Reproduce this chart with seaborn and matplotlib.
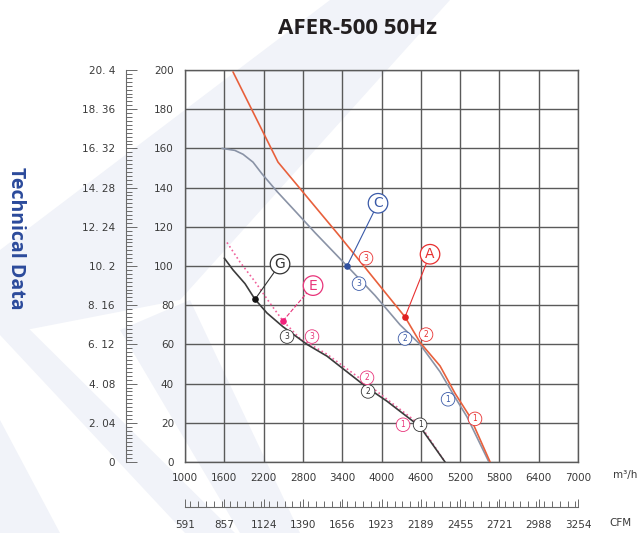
import numpy as np
import pandas as pd
import seaborn as sns
import matplotlib.pyplot as plt
from matplotlib.patches import Polygon
from matplotlib.ticker import MultipleLocator

# fan curves, airflow (m3/h) vs static pressure (Pa)
a_flow = [1733, 2420, 3367, 4359, 4589, 4894, 5123, 5352, 5658]
a_pa = [199, 153, 115, 74, 61, 49, 35, 23, 0]
c_flow = [1565, 1760, 1886, 2038, 2176, 2405, 2710, 2985, 3474, 3900, 4283, 4589, 4894, 5123, 5306, 5640]
c_pa = [160, 159, 157, 153, 147, 138, 127, 117, 100, 85, 70, 60, 46, 33, 23, 0]
g_flow = [1600, 1733, 1916, 2069, 2252, 2496, 2863, 3168, 3779, 4084, 4589, 4970]
g_pa = [104, 98, 91, 83, 76, 69, 60, 54, 38, 31, 18, 0]
e_flow = [1641, 1840, 2069, 2298, 2496, 2756, 3168, 3779, 4084, 4589, 4970]
e_pa = [112, 102, 92, 81, 72, 63, 55, 40, 32, 19, 0]

# operating points and their letter labels
curve_names = ['A', 'C', 'G', 'E']
point_flow = [4359, 3474, 2069, 2496]
point_pa = [74, 100, 83, 72]
label_flow = [4741, 3947, 2451, 2955]
label_pa = [106, 132, 101, 90]

# circled speed numbers on each curve (number, flow, pa)
num_marks = {
    'A': [('3', 3764, 104), ('2', 4680, 65), ('1', 5428, 22)],
    'C': [('3', 3657, 91), ('2', 4359, 63), ('1', 5016, 32)],
    'G': [('3', 2558, 64), ('2', 3795, 36), ('1', 4589, 19)],
    'E': [('3', 2939, 64), ('2', 3779, 43), ('1', 4329, 19)],
}

flow_ticks = [1000, 1600, 2200, 2800, 3400, 4000, 4600, 5200, 5800, 6400, 7000]
cfm_labels = ['591', '857', '1124', '1390', '1656', '1923', '2189', '2455', '2721', '2988', '3254']
pa_ticks = [0, 20, 40, 60, 80, 100, 120, 140, 160, 180, 200]
mmaq_labels = ['0', '2. 04', '4. 08', '6. 12', '8. 16', '10. 2', '12. 24', '14. 28',
               '16. 32', '18. 36', '20. 4']

colors = {'A': '#e8603c', 'C': '#8a93a6', 'G': '#3c3c3c', 'E': '#f0609a'}
dot_colors = {'A': '#e02020', 'C': '#2f4f9f', 'G': '#111111', 'E': '#f0207a'}
text_colors = {'A': '#e83030', 'C': '#3a5aa8', 'G': '#333333', 'E': '#e8347a'}

sns.set_style('white')
plt.rcParams['font.family'] = ['DejaVu Sans']

fig = plt.figure(figsize=(6.37, 5.33), dpi=100)

# faint watermark shapes in the background
W, H = 637, 533
def px(pts):
    return [(x / W, 1 - y / H) for x, y in pts]
for pts in [[(330, 0), (450, 0), (180, 300), (0, 335), (0, 250)],
            [(0, 300), (0, 335), (185, 533), (235, 533)],
            [(0, 420), (0, 533), (60, 533)],
            [(190, 300), (120, 330), (240, 533), (300, 533)]]:
    fig.add_artist(Polygon(px(pts), closed=True, transform=fig.transFigure,
                           facecolor='#f1f3f9', edgecolor='none', zorder=0))

ax = fig.add_axes([185 / W, 1 - 462 / H, 393 / W, 392 / H])
ax.set_facecolor('none')

curves = {
    'A': pd.DataFrame({'flow': a_flow, 'pa': a_pa}),
    'C': pd.DataFrame({'flow': c_flow, 'pa': c_pa}),
    'G': pd.DataFrame({'flow': g_flow, 'pa': g_pa}),
    'E': pd.DataFrame({'flow': e_flow, 'pa': e_pa}),
}
for name in ['C', 'A', 'E', 'G']:
    ls = ':' if name == 'E' else '-'
    sns.lineplot(data=curves[name], x='flow', y='pa', ax=ax, sort=False,
                 color=colors[name], linewidth=1.2, linestyle=ls, zorder=3)

for i, name in enumerate(curve_names):
    ls = '--' if name == 'E' else '-'
    ax.plot([point_flow[i], label_flow[i]], [point_pa[i], label_pa[i]],
            color=text_colors[name], lw=0.8, ls=ls, zorder=3)
    ax.scatter(point_flow[i], point_pa[i], s=14, color=dot_colors[name], zorder=5)
    ax.text(label_flow[i], label_pa[i], name, ha='center', va='center',
            fontsize=10, color=text_colors[name], zorder=6,
            bbox=dict(boxstyle='circle,pad=0.2', fc='white', ec=text_colors[name], lw=0.9))
    for n, fx, fy in num_marks[name]:
        ax.text(fx, fy, n, ha='center', va='center', fontsize=5.5, color=text_colors[name],
                zorder=6,
                bbox=dict(boxstyle='circle,pad=0.3', fc='white', ec=text_colors[name], lw=0.6))

ax.set_xlim(1000, 7000)
ax.set_ylim(0, 200)
ax.set_xlabel('')
ax.set_ylabel('')
ax.set_xticks(flow_ticks)
ax.set_yticks(pa_ticks)
ax.xaxis.set_minor_locator(MultipleLocator(120))
ax.yaxis.set_minor_locator(MultipleLocator(4))
ax.grid(True, which='major', color='#5a5a5a', lw=1.0)
for s in ax.spines.values():
    s.set_color('#5a5a5a')
    s.set_linewidth(1.0)
ax.tick_params(which='both', direction='in', colors='#6a6a6a', labelcolor='#3a3a3a',
               labelsize=7.5, width=0.7)
ax.tick_params(which='major', length=0, pad=8)
ax.tick_params(which='minor', length=4)

# mmAq axis on the far left
sec_y = ax.secondary_yaxis(-59 / 393)
sec_y.set_yticks(pa_ticks)
sec_y.set_yticklabels(mmaq_labels)
sec_y.yaxis.set_minor_locator(MultipleLocator(2))
sec_y.spines['left'].set_color('#6a6a6a')
sec_y.tick_params(which='both', direction='in', colors='#6a6a6a', labelcolor='#3a3a3a',
                  labelsize=7.5, width=0.7)
sec_y.tick_params(which='major', length=8, pad=8)
sec_y.tick_params(which='minor', length=4)

# CFM axis below
sec_x = ax.secondary_xaxis(-45 / 392)
sec_x.set_xticks(flow_ticks)
sec_x.set_xticklabels(cfm_labels)
sec_x.xaxis.set_minor_locator(MultipleLocator(120))
sec_x.spines['bottom'].set_color('#6a6a6a')
sec_x.tick_params(which='both', direction='in', colors='#6a6a6a', labelcolor='#3a3a3a',
                  labelsize=7.5, width=0.7)
sec_x.tick_params(which='major', length=6, pad=9)
sec_x.tick_params(which='minor', length=4)

fig.text(625 / W, 1 - 475 / H, 'm³/h', ha='center', va='center', fontsize=7.5, color='#3a3a3a')
fig.text(620 / W, 1 - 523 / H, 'CFM', ha='center', va='center', fontsize=7.5, color='#3a3a3a')

fig.text(357 / W, 1 - 29 / H, 'AFER-500 50Hz', ha='center', va='center', fontsize=16,
         fontweight='bold', color='#231f20', family='Open Sans')
fig.text(16 / W, 1 - 238 / H, 'Technical Data', ha='center', va='center', fontsize=14,
         fontweight='bold', color='#2b4a9b', rotation=270, family='Open Sans')

fig.savefig('out.png', dpi=100)
